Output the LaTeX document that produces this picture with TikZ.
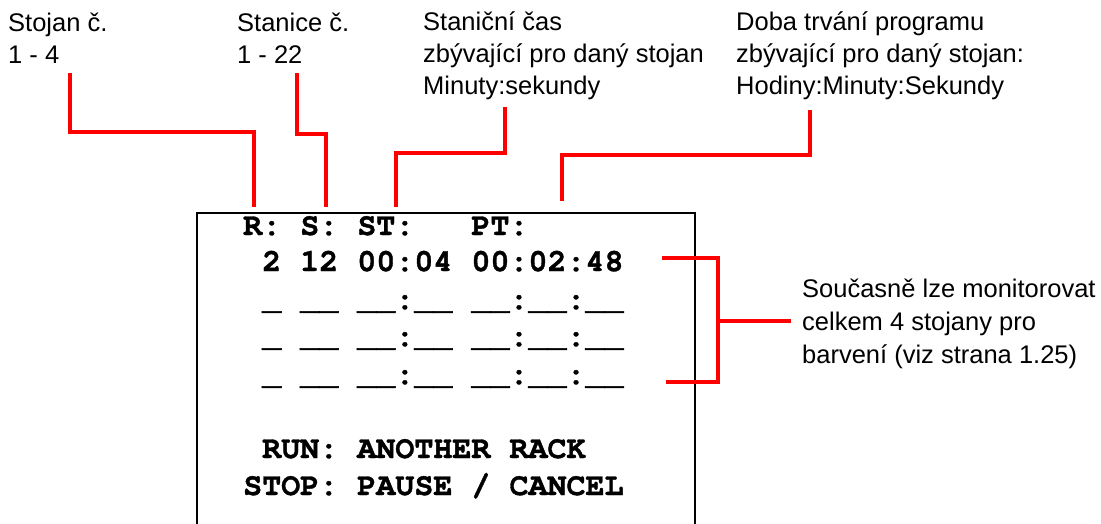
\documentclass[tikz,border=0pt]{standalone}
\usepackage{fontspec}
\setmainfont{Liberation Sans}
\newfontfamily\monofont{texgyrecursor}[Extension=.otf,UprightFont=*-regular,BoldFont=*-bold,BoldFeatures={FakeBold=1.2}]
\begin{document}
\begin{tikzpicture}[x=1pt,y=-1pt,
  lbl/.style={anchor=base west,inner sep=0pt,font=\fontsize{25.5}{32}\selectfont},
  mono/.style={anchor=base west,inner sep=0pt,font=\monofont\bfseries\fontsize{31.7}{38}\selectfont},
  redline/.style={draw={rgb,255:red,255;green,0;blue,0},line width=4.5pt},
  boxline/.style={draw=black,line width=2.7pt}]
\useasboundingbox (0,0) rectangle (1101,523);
% display box (open at bottom)
\draw[boxline] (197,540) -- (197,213) -- (695,213) -- (695,540);
% labels
\node[lbl] (l1a) at (8,31) {Stojan č.};
\node[lbl] (l1b) at (8,63) {1 - 4};
\node[lbl] (l2a) at (237,31) {Stanice č.};
\node[lbl] (l2b) at (237,63) {1 - 22};
\node[lbl] (l3a) at (423,30) {Staniční čas};
\node[lbl] (l3b) at (423,62) {zbývající pro daný stojan};
\node[lbl] (l3c) at (423,94) {Minuty:sekundy};
\node[lbl] (l4a) at (736,30) {Doba trvání programu};
\node[lbl] (l4b) at (736,62) {zbývající pro daný stojan:};
\node[lbl] (l4c) at (736,94) {Hodiny:Minuty:Sekundy};
\node[lbl] (r1) at (802,297) {Současně lze monitorovat};
\node[lbl] (r2) at (802,330) {celkem 4 stojany pro};
\node[lbl] (r3) at (802,363) {barvení (viz strana 1.25)};
% display text
\node[mono] (m0) at (243,235) {R:~S:~ST:~~~PT:};
\node[mono] (m1) at (243,271) {~2~12~00:04~00:02:48};
\node[mono] (m2) at (243,309) {~\_~\_\_~\_\_:\_\_~\_\_:\_\_:\_\_};
\node[mono] (m3) at (243,346) {~\_~\_\_~\_\_:\_\_~\_\_:\_\_:\_\_};
\node[mono] (m4) at (243,384) {~\_~\_\_~\_\_:\_\_~\_\_:\_\_:\_\_};
\node[mono] (m5) at (243,458) {~RUN:~ANOTHER~RACK};
\node[mono] (m6) at (243,495) {STOP:~PAUSE~/~CANCEL};
% connector end points
\coordinate (a1) at (70,73);   \coordinate (b1) at (254,207);
\coordinate (a2) at (297,73);  \coordinate (b2) at (326,207);
\coordinate (a3) at (505,107); \coordinate (b3) at (396,207);
\coordinate (a4) at (810,110); \coordinate (b4) at (562,201);
\coordinate (t1) at (662,258); \coordinate (t2) at (666,382);
\coordinate (tm) at (791,321);
\draw[redline] (a1) |- (162,132) -| (b1);
\draw[redline] (a2) |- (311,134) -| (b2);
\draw[redline] (a3) |- (450,153) -| (b3);
\draw[redline] (a4) |- (686,155) -| (b4);
\draw[redline] (t1) -| (718,321) |- (t2);
\draw[redline] (718,321) -- (tm);
\end{tikzpicture}
\end{document}
